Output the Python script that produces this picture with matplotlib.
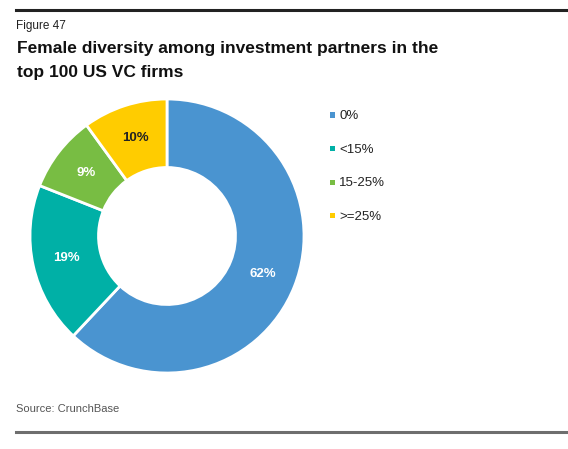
import matplotlib
matplotlib.use('Agg')
import matplotlib.pyplot as plt
from matplotlib.lines import Line2D
from matplotlib.patches import Rectangle

plt.rcParams['font.family'] = ['Liberation Sans', 'DejaVu Sans']

labels = ['0%', '<15%', '15-25%', '>=25%']
values = [62, 19, 9, 10]
colors = ['#4a94d0', '#00b0a6', '#78bd43', '#ffcc00']
pct_colors = ['white', 'white', 'white', '#222222']

fig = plt.figure(figsize=(5.68, 4.49), dpi=100)

# header / footer rules
fig.add_artist(Line2D([16/568, 1], [1 - 10/449] * 2, color='#222222', lw=2.2))
fig.add_artist(Line2D([16/568, 1], [1 - 432/449] * 2, color='#6e6e6e', lw=2.2))

fig.text(16/568, 1 - 26/449, 'Figure 47', fontsize=8.5, va='center', color='#222222')
fig.text(17/568, 1 - 48/449, 'Female diversity among investment partners in the',
         fontsize=12.5, fontweight='bold', va='center', color='#111111')
fig.text(17/568, 1 - 72/449, 'top 100 US VC firms',
         fontsize=12.5, fontweight='bold', va='center', color='#111111')
fig.text(16/568, 1 - 409/449, 'Source: CrunchBase', fontsize=8, va='center', color='#555555')

cx, cy, r = 167, 236, 137
ax = fig.add_axes([(cx - r) / 568, 1 - (cy + r) / 449, 2 * r / 568, 2 * r / 449])
wedges, texts, autotexts = ax.pie(values, colors=colors, startangle=90, counterclock=False,
                                  autopct='%d%%', pctdistance=0.75,
                                  wedgeprops=dict(width=0.5, edgecolor='white', linewidth=2))
for t, c in zip(autotexts, pct_colors):
    t.set_color(c)
    t.set_fontsize(9.5)
    t.set_fontweight('bold')
ax.set_xlim(-1, 1)
ax.set_ylim(-1, 1)
ax.set_aspect('equal')
ax.axis('off')

# legend
for i, (lab, col) in enumerate(zip(labels, colors)):
    yp = 116 + i * 33.6
    fig.add_artist(Rectangle((330/568, 1 - (yp + 1.5)/449), 5/568, 5/449,
                             facecolor=col, edgecolor='none', transform=fig.transFigure))
    fig.text(339/568, 1 - yp/449, lab, fontsize=9.5, va='center', color='#222222')

fig.savefig('out.png', dpi=100)
